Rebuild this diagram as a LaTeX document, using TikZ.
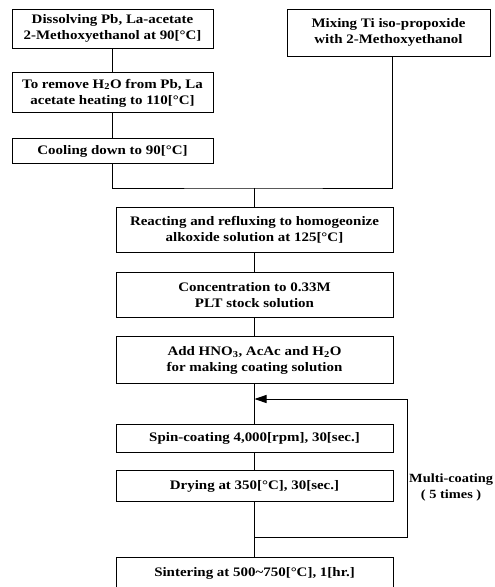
\documentclass[tikz,border=0pt]{standalone}
\usepackage{fontspec}
\setmainfont[FakeStretch=1.15]{Liberation Serif}
\usepackage{tikz}
\usetikzlibrary{arrows.meta,positioning}

\begin{document}
\begin{tikzpicture}[x=1pt,y=-1pt,
  box/.style={draw,line width=0.9pt,inner sep=2pt,align=center,
              font=\fontsize{13}{16}\selectfont\bfseries},
  left col/.style={box,minimum width=201pt},
  mid col/.style={box,minimum width=277pt},
  ln/.style={line width=0.9pt},
  arr/.style={ln,-{Triangle[length=12pt,width=8pt]}}
]
\useasboundingbox (0,0) rectangle (495,587);
% left branch
\node[left col,minimum height=39pt] (diss) at (112.5,28.5)
  {Dissolving Pb, La-acetate\\2-Methoxyethanol at 90[°C]};
\node[left col,minimum height=40pt,below=24pt of diss] (remove)
  {To remove H\textsubscript{2}O from Pb, La\\acetate heating to 110[°C]};
\node[left col,minimum height=25pt,below=25pt of remove] (cool)
  {Cooling down to 90[°C]};
% right branch
\node[box,minimum width=203pt,minimum height=47pt] (mix) at (388.5,32.5)
  {Mixing Ti iso-propoxide\\with 2-Methoxyethanol};
% main column
\node[mid col,minimum height=45pt] (react) at (254.5,229.5)
  {Reacting and refluxing to homogeonize\\alkoxide solution at 125[°C]};
\node[mid col,minimum height=45pt,below=20pt of react] (conc)
  {Concentration to 0.33M\\PLT stock solution};
\node[mid col,minimum height=47pt,below=18pt of conc] (add)
  {Add HNO\textsubscript{3}, AcAc and H\textsubscript{2}O\\for making coating solution};
\node[mid col,minimum height=28pt,below=40pt of add] (spin)
  {Spin-coating 4,000[rpm], 30[sec.]};
\node[mid col,minimum height=31pt,below=17pt of spin] (dry)
  {Drying at 350[°C], 30[sec.]};
\node[mid col,minimum height=32pt,below=55pt of dry] (sint)
  {Sintering at 500\textasciitilde750[°C], 1[hr.]};

\coordinate (merge) at (254.5,188);
\coordinate (top) at (254.5,399);
\coordinate (bot) at (254.5,537);
\coordinate (loop) at (407,537);

\draw[ln] (diss) -- (remove);
\draw[ln] (remove) -- (cool);
\draw[ln] (cool.south) |- (merge) -| ([xshift=4pt]mix.south);
\draw[ln] (merge) -- (react);
\draw[ln] (react) -- (conc);
\draw[ln] (conc) -- (add);
\draw[ln] (add) -- (spin);
\draw[ln] (spin) -- (dry);
\draw[ln] (dry) -- (sint);
\draw[arr] (bot) -- (loop) |- (top);
\node[font=\fontsize{12.5}{16}\selectfont\bfseries,align=center,
      anchor=west,inner sep=1pt] (multi) at (408,487)
  {Multi-coating\\( 5 times )};
\end{tikzpicture}
\end{document}
